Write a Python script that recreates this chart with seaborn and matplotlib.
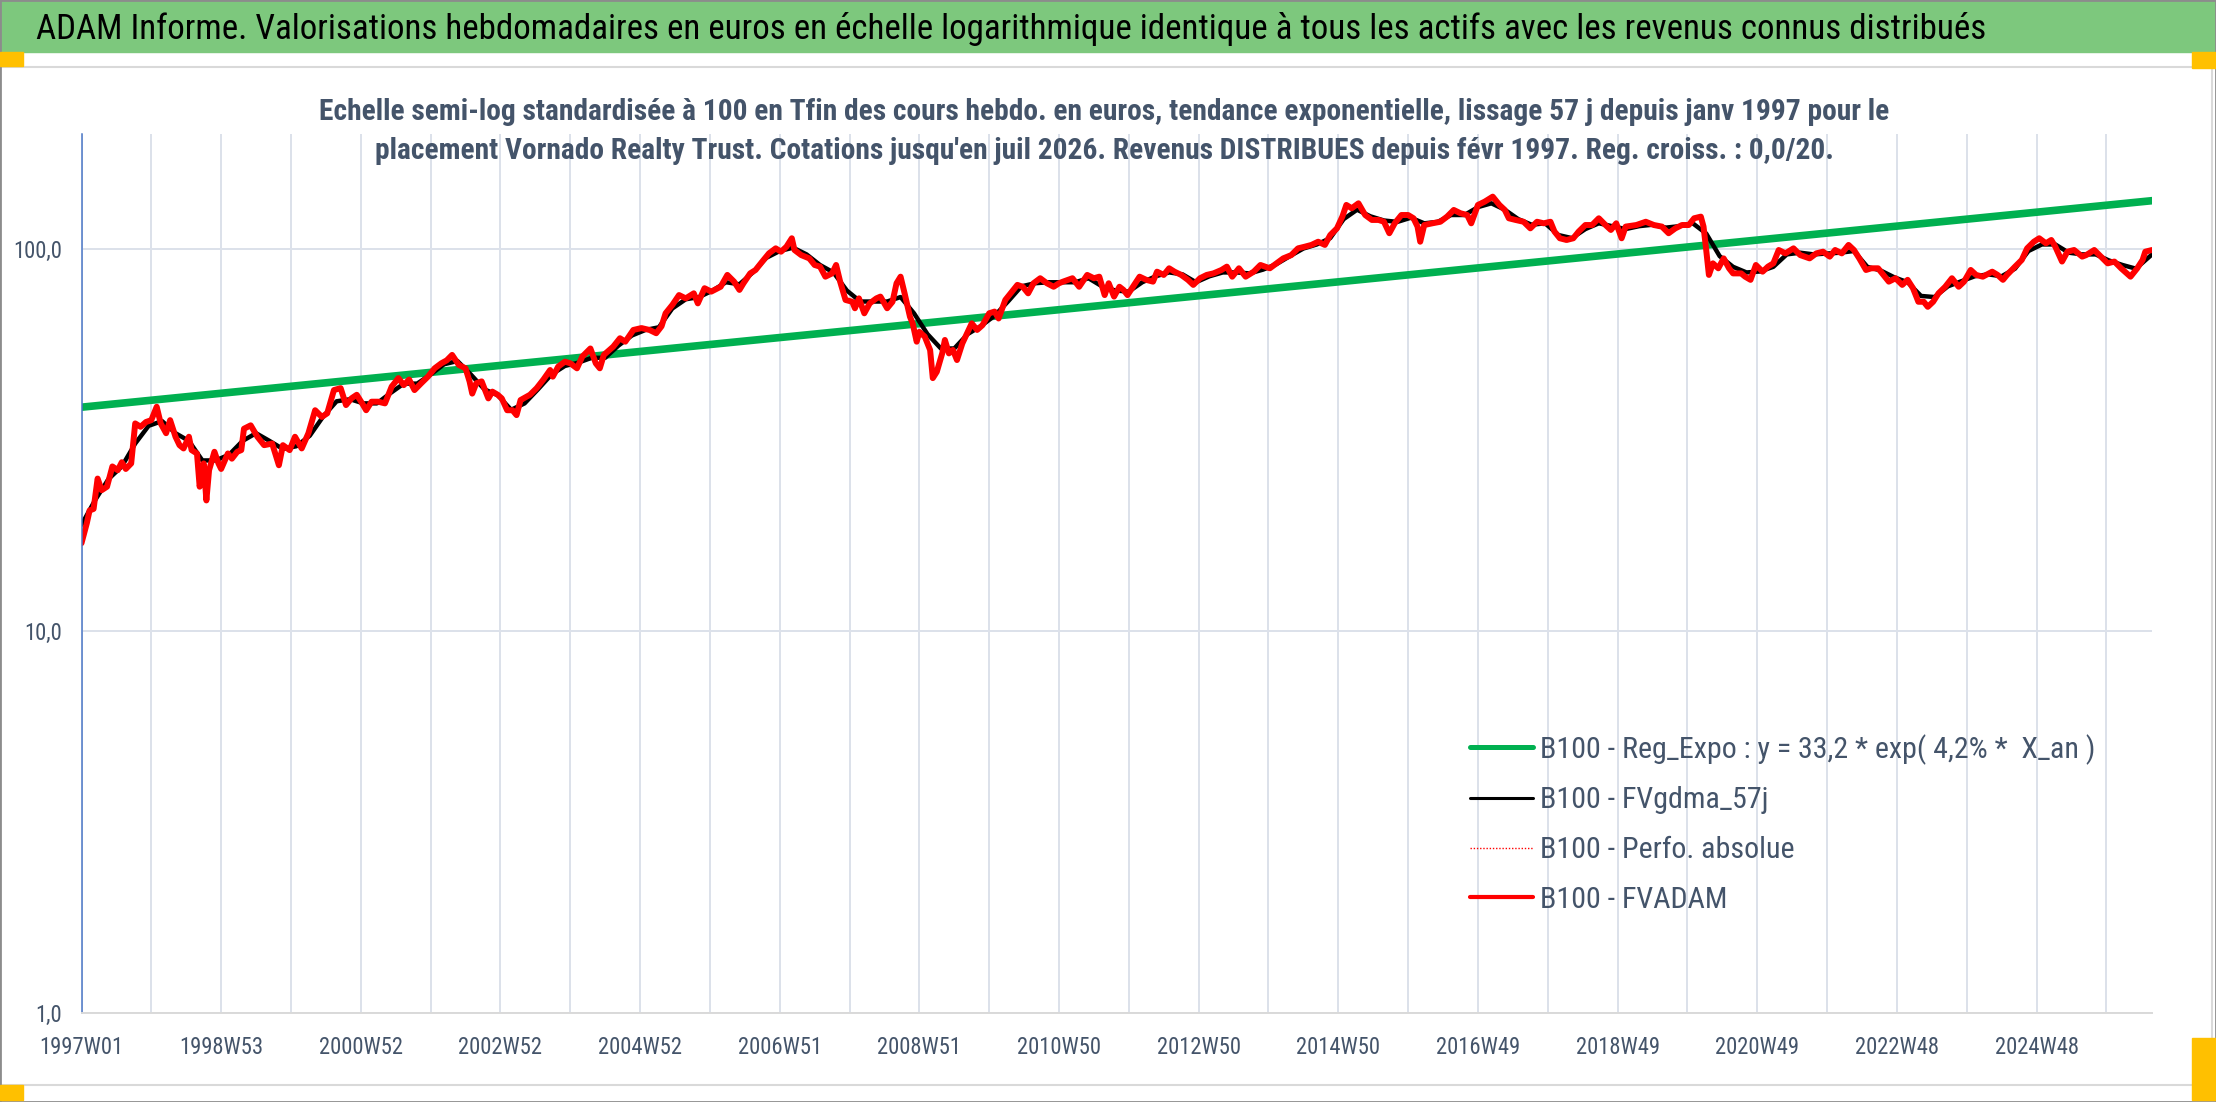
import matplotlib
matplotlib.use("Agg")
import matplotlib.pyplot as plt
import numpy as np
import pandas as pd
import seaborn as sns
from matplotlib import font_manager
from matplotlib.patches import Rectangle
from matplotlib.ticker import FuncFormatter, NullLocator

# x axis = week index counted from 1997W01 (one category per week)
n_weeks = 1543
tick_labels = ["1997W01", "1998W53", "2000W52", "2002W52", "2004W52", "2006W51",
               "2008W51", "2010W50", "2012W50", "2014W50", "2016W49", "2018W49",
               "2020W49", "2022W48", "2024W48"]
y_ticks = [1, 10, 100]

reg_weeks = [0, 1542]
reg_values = [38.6, 134.1]

red_weeks = [
    0, 4, 6, 9, 12, 15, 19, 23, 27, 30,
    33, 37, 40, 44, 48, 52, 56, 59, 63, 66,
    70, 73, 76, 80, 82, 86, 88, 91, 93, 95,
    99, 102, 104, 109, 112, 116, 119, 121, 126, 131,
    136, 142, 147, 150, 155, 159, 164, 169, 174, 179,
    183, 188, 193, 197, 201, 205, 209, 212, 216, 221,
    226, 231, 236, 240, 244, 248, 253, 258, 263, 268,
    272, 276, 281, 286, 289, 291, 294, 298, 303, 306,
    310, 313, 317, 321, 324, 327, 334, 339, 344, 349,
    351, 355, 360, 364, 369, 373, 379, 383, 386, 389,
    396, 401, 405, 411, 417, 423, 428, 432, 435, 440,
    445, 450, 456, 459, 464, 469, 476, 481, 486, 490,
    493, 498, 502, 507, 512, 517, 521, 525, 529, 531,
    536, 542, 546, 550, 554, 559, 562, 565, 569, 574,
    576, 579, 583, 587, 592, 595, 600, 604, 607, 610,
    613, 617, 619, 622, 624, 628, 632, 634, 637, 641,
    643, 646, 649, 652, 656, 660, 663, 667, 671, 676,
    680, 683, 688, 694, 697, 701, 705, 709, 714, 719,
    724, 728, 731, 738, 743, 749, 754, 758, 762, 765,
    769, 773, 776, 779, 784, 788, 793, 798, 801, 806,
    810, 814, 819, 824, 828, 833, 838, 843, 849, 853,
    857, 862, 867, 873, 878, 885, 890, 895, 901, 906,
    911, 916, 921, 926, 930, 935, 939, 942, 946, 951,
    956, 961, 966, 970, 974, 978, 983, 988, 992, 995,
    997, 1000, 1006, 1012, 1017, 1022, 1027, 1032, 1035, 1040,
    1045, 1051, 1056, 1060, 1063, 1068, 1074, 1079, 1084, 1089,
    1094, 1097, 1101, 1106, 1111, 1115, 1120, 1125, 1130, 1135,
    1139, 1143, 1147, 1150, 1158, 1165, 1171, 1177, 1182, 1187,
    1192, 1197, 1201, 1206, 1208, 1210, 1212, 1215, 1219, 1223,
    1227, 1230, 1236, 1239, 1243, 1247, 1252, 1256, 1260, 1264,
    1269, 1275, 1280, 1287, 1292, 1297, 1302, 1306, 1311, 1316,
    1320, 1324, 1329, 1333, 1338, 1342, 1346, 1351, 1356, 1360,
    1364, 1368, 1372, 1375, 1379, 1383, 1388, 1393, 1398, 1402,
    1407, 1411, 1416, 1423, 1427, 1431, 1434, 1440, 1445, 1449,
    1454, 1458, 1463, 1467, 1470, 1475, 1479, 1484, 1490, 1493,
    1499, 1504, 1509, 1514, 1519, 1526, 1531, 1535, 1537, 1542,
]
red_values = [
    17.0, 19.2, 20.7, 20.9, 25.1, 23.4, 23.9, 27.0, 26.4, 27.7,
    26.6, 27.5, 35.0, 34.3, 35.3, 35.7, 38.7, 35.0, 33.0, 35.7,
    32.3, 30.7, 30.1, 32.3, 29.8, 29.2, 23.9, 27.5, 22.0, 26.4,
    29.5, 27.5, 26.6, 29.2, 28.3, 29.5, 29.8, 33.9, 34.6, 32.3,
    30.7, 31.0, 27.2, 30.7, 29.8, 32.3, 30.1, 33.0, 37.9, 36.4,
    37.2, 42.8, 43.3, 39.1, 40.7, 41.6, 39.5, 37.9, 39.9, 39.9,
    39.5, 43.7, 46.0, 44.1, 45.6, 42.8, 44.6, 46.4, 48.8, 50.3,
    51.2, 52.9, 49.8, 48.8, 45.1, 41.9, 44.6, 45.1, 40.7, 42.4,
    41.6, 40.7, 37.9, 37.9, 36.8, 40.3, 41.6, 43.3, 45.6, 48.3,
    46.4, 49.3, 50.8, 50.3, 48.8, 52.4, 55.0, 50.3, 48.8, 52.9,
    55.6, 58.5, 57.3, 61.5, 62.2, 61.5, 60.3, 62.9, 68.0, 71.5,
    75.9, 74.4, 76.7, 72.2, 79.1, 77.5, 79.8, 85.7, 82.3, 78.3,
    81.5, 86.5, 88.3, 92.9, 97.6, 100.6, 98.6, 101.6, 106.9, 99.6,
    96.6, 94.7, 91.0, 90.1, 84.8, 86.5, 91.0, 82.3, 73.7, 72.9,
    70.1, 74.4, 68.0, 72.2, 74.4, 75.2, 70.1, 72.9, 81.5, 84.8,
    76.7, 66.6, 64.0, 57.3, 60.8, 59.1, 54.5, 46.0, 47.8, 53.4,
    57.9, 53.4, 54.5, 51.3, 56.7, 60.8, 64.0, 61.5, 63.3, 68.0,
    68.7, 65.9, 73.7, 78.3, 80.7, 79.8, 76.7, 81.5, 84.0, 81.5,
    79.8, 81.5, 82.3, 84.0, 79.8, 85.7, 84.0, 84.8, 75.9, 81.5,
    75.2, 79.8, 78.3, 75.9, 80.7, 84.8, 83.2, 82.3, 87.4, 85.7,
    89.2, 87.4, 85.7, 83.2, 80.7, 84.0, 85.7, 86.5, 88.3, 90.1,
    84.8, 89.2, 84.8, 87.4, 91.0, 89.2, 91.9, 94.7, 96.6, 100.6,
    101.6, 102.7, 104.7, 102.7, 109.0, 113.5, 121.8, 130.7, 128.1, 132.0,
    123.0, 119.4, 119.4, 118.1, 110.2, 117.0, 123.0, 123.0, 120.6, 114.7,
    104.7, 115.8, 117.0, 118.1, 121.8, 126.8, 124.3, 123.0, 117.0, 130.7,
    133.3, 137.4, 130.7, 126.8, 120.6, 119.4, 118.1, 113.5, 118.1, 117.0,
    118.1, 111.3, 106.9, 105.8, 106.9, 111.3, 115.8, 115.8, 120.6, 115.8,
    112.4, 117.0, 106.9, 114.7, 115.8, 118.1, 115.8, 114.7, 110.2, 113.5,
    115.8, 115.8, 120.6, 121.8, 114.7, 99.6, 85.7, 91.9, 89.2, 94.7,
    89.2, 86.5, 86.5, 84.8, 83.2, 91.0, 87.4, 90.1, 91.9, 99.6,
    97.6, 100.6, 96.6, 94.7, 97.6, 98.6, 95.7, 99.6, 97.6, 102.7,
    99.6, 94.7, 88.3, 89.2, 89.2, 85.7, 82.3, 84.0, 80.7, 83.2,
    79.1, 72.9, 72.9, 70.7, 72.9, 76.7, 79.8, 84.0, 79.8, 82.3,
    88.3, 85.7, 84.8, 87.4, 85.7, 83.2, 85.7, 90.1, 93.8, 100.6,
    104.7, 106.9, 103.7, 105.8, 101.6, 92.9, 98.6, 99.6, 95.7, 96.6,
    99.6, 95.7, 91.9, 92.9, 89.2, 84.8, 89.2, 93.8, 98.6, 99.6,
]

black_weeks = list(range(0, 1531, 10)) + [1542]
black_values = [
    19.0, 22, 25, 27, 31, 34.5, 35.5, 33, 31.5, 28,
    28, 29, 31.5, 33, 31.5, 30, 30.5, 32.5, 36.5, 40,
    40.5, 39.5, 39.5, 42, 44.5, 44.5, 47, 50, 51, 47,
    43, 41.5, 38, 39.5, 43, 47, 49.5, 50.5, 52, 52,
    56, 59.5, 61.5, 62.5, 70, 74, 75, 78, 82, 81,
    87, 95, 99, 101, 97, 91, 87, 78, 73, 73,
    73, 75, 68, 60, 55, 55, 60, 63, 67, 73,
    80, 81.5, 82, 82, 82, 84, 80, 78, 77.5, 82,
    85, 87, 86, 82, 85, 87, 87, 86.5, 88.5, 91.5,
    96, 100.5, 103, 107, 120, 127, 122, 119, 118, 121,
    117, 118, 123, 123, 129, 132, 127, 120, 116, 117,
    109, 107, 113, 117, 115, 113, 115, 116, 114, 115,
    117, 110, 96, 90, 87, 87.5, 90, 97, 98, 97,
    97.5, 98, 99, 90, 88, 84.5, 82, 75.5, 75, 80,
    82.5, 85, 86, 85, 89, 99, 103, 103, 98, 97,
    97, 93.5, 91, 89, 97,
]

title = ("ADAM Informe. Valorisations hebdomadaires en euros en échelle logarithmique "
         "identique à tous les actifs avec les revenus connus distribués")
subtitle = ["Echelle semi-log standardisée à 100 en Tfin des cours hebdo. en euros, tendance "
            "exponentielle, lissage 57 j depuis janv 1997 pour le",
            "placement Vornado Realty Trust. Cotations jusqu'en juil 2026. Revenus DISTRIBUES "
            "depuis févr 1997. Reg. croiss. : 0,0/20."]
labels = ["B100 - Reg_Expo : y = 33,2 * exp( 4,2% *  X_an )", "B100 - FVgdma_57j",
          "B100 - Perfo. absolue", "B100 - FVADAM"]

W, H = 2216, 1102
ink = "#44546a"
gridc = "#dce1ea"

sns.set_theme(style="white")

# the reference uses a narrow Calibri-like face: take a condensed family if one is installed
fonts = font_manager.fontManager.ttflist
names = {f.name for f in fonts}
narrow = [n for n in ["Liberation Sans Narrow", "Roboto Condensed", "Open Sans Condensed",
                      "Noto Sans Condensed"] if n in names]
boost = 1.0
if narrow:
    plt.rcParams["font.family"] = [narrow[0], "DejaVu Sans"]
elif any(f.name == "Noto Sans" and f.stretch in ("condensed", "semi-condensed") for f in fonts):
    plt.rcParams["font.family"] = ["Noto Sans", "DejaVu Sans"]
    plt.rcParams["font.stretch"] = "condensed"
else:
    plt.rcParams["font.family"] = ["Lato", "DejaVu Sans"]
    boost = 1.1

fig = plt.figure(figsize=(W / 100, H / 100), dpi=100, facecolor="white")
renderer = fig.canvas.get_renderer()


def fit(s, target, **kw):
    # font size (pt) that makes the string `target` pixels wide
    t = fig.text(0, 0, s, fontsize=20, **kw)
    w = t.get_window_extent(renderer).width
    t.remove()
    return 20 * target / w


# frame decorations (banner, chart border, selection handles)
fig.patches.append(Rectangle((0, 1 - 52 / H), 1, 52 / H, transform=fig.transFigure,
                             color="#7dc87d", zorder=0))
fig.patches.append(Rectangle((0, 1 - 1085 / H), 2212 / W, (1085 - 67) / H, transform=fig.transFigure,
                             fill=False, edgecolor="#d9d9d9", lw=1.5, zorder=0))
fig.patches.append(Rectangle((0, 0), 1, 1, transform=fig.transFigure, fill=False,
                             edgecolor="#8c8c8c", lw=2, zorder=0))
for x0, y0, x1, y1 in [(0, 52, 23, 66), (2192, 52, 2216, 68), (0, 1085, 23, 1100), (2192, 1038, 2216, 1100)]:
    fig.patches.append(Rectangle((x0 / W, 1 - y1 / H), (x1 - x0) / W, (y1 - y0) / H,
                                 transform=fig.transFigure, color="#ffc000", zorder=1))

fig.text(36 / W, 1 - 39.3 / H, title, ha="left", va="baseline", color="black",
         fontsize=min(fit(title, 1952) * boost, fit(title, 2140)))
sub_fs = fit(subtitle[0], 1566, fontweight="bold") * boost
fig.text(1104 / W, 1 - 120 / H, subtitle[0], ha="center", va="baseline", color=ink,
         fontsize=sub_fs, fontweight="bold")
fig.text(1104 / W, 1 - 159.3 / H, subtitle[1], ha="center", va="baseline", color=ink,
         fontsize=sub_fs, fontweight="bold")

ax = fig.add_axes([81.5 / W, 1 - 1013 / H, (2152 - 81.5) / W, (1013 - 134.4) / H])

reg_df = pd.DataFrame({"week": reg_weeks, "value": reg_values})
black_df = pd.DataFrame({"week": black_weeks, "value": black_values})
red_df = pd.DataFrame({"week": red_weeks, "value": red_values})

sns.lineplot(data=reg_df, x="week", y="value", ax=ax, color="#00b050", linewidth=5.5, label=labels[0])
sns.lineplot(data=black_df, x="week", y="value", ax=ax, color="black", linewidth=3.2, label=labels[1])
sns.lineplot(data=red_df, x="week", y="value", ax=ax, color="#ff0000", linewidth=1.0,
             linestyle=(0, (1, 1.3)), label=labels[2])
sns.lineplot(data=red_df, x="week", y="value", ax=ax, color="#ff0000", linewidth=4.3, label=labels[3])

ax.set_yscale("log")
ax.set_xlim(0, n_weeks - 1)
ax.set_ylim(1, 200)
ax.set_xlabel("")
ax.set_ylabel("")

tick_fs = fit("1997W01", 84) * boost
xt = list(range(0, n_weeks, 52))
ax.set_xticks(xt)
ax.set_xticklabels([tick_labels[i // 2] if i % 2 == 0 else "" for i in range(len(xt))])
ax.set_yticks(y_ticks)
ax.yaxis.set_minor_locator(NullLocator())
ax.yaxis.set_major_formatter(FuncFormatter(lambda v, p: f"{v:.1f}".replace(".", ",")))
ax.tick_params(axis="x", length=5.8, width=1.1, color=gridc, direction="out", pad=11,
               labelsize=tick_fs, labelcolor=ink)
ax.tick_params(axis="y", length=0, pad=14, labelsize=tick_fs, labelcolor=ink)
ax.grid(True, color=gridc, linewidth=1.4)
ax.set_axisbelow(True)
for side in ["top", "right"]:
    ax.spines[side].set_visible(False)
ax.spines["left"].set_color("#4a76c6")
ax.spines["left"].set_linewidth(1.1)
ax.spines["bottom"].set_color("#d9d9d9")
ax.spines["bottom"].set_linewidth(1.4)

# legend, placed then nudged so its rows land on the reference baselines
leg_fs = fit(labels[0], 555) * boost
leg_px = leg_fs * 100 / 72


def make_legend(spacing, y_anchor):
    lg = ax.legend(loc="upper left", bbox_to_anchor=(1470 / W, y_anchor), bbox_transform=fig.transFigure,
                   frameon=False, fontsize=leg_fs, handlelength=63 / leg_px, handletextpad=7 / leg_px,
                   labelspacing=spacing, borderpad=0, borderaxespad=0)
    for t in lg.get_texts():
        t.set_color(ink)
    for h, lw in zip(lg.legend_handles, [3.6, 2.2, 1.0, 3.0]):
        h.set_linewidth(lw)
    return lg


spacing, y_anchor = 0.5, 1 - 728 / H
leg = make_legend(spacing, y_anchor)
fig.canvas.draw()
ys = [t.get_window_extent(renderer).y0 for t in leg.get_texts()]
spacing += (49.7 - (ys[0] - ys[3]) / 3) / leg_px
leg = make_legend(spacing, y_anchor)
fig.canvas.draw()
base0 = leg.get_texts()[0].get_window_extent(renderer).y0 + 0.21 * leg_px
y_anchor += ((H - 758.3) - base0) / H
leg = make_legend(spacing, y_anchor)

fig.savefig("out.png", dpi=100)
